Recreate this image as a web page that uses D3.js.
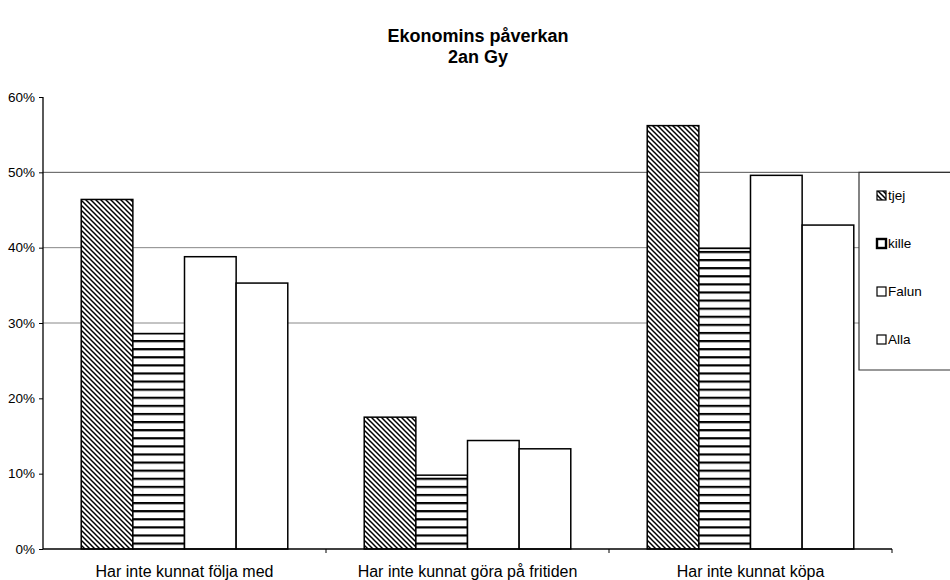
<!DOCTYPE html>
<html>
<head>
<meta charset="utf-8">
<script src="https://cdn.jsdelivr.net/npm/d3@7"></script>
<style>
  body { margin: 0; background: #fff; }
  text { font-family: "Liberation Sans", Arial, sans-serif; fill: #000; }
</style>
</head>
<body>
<div id="chart"></div>
<script>
var svgWidth = 950;
var svgHeight = 580;

var margin = { top: 97, right: 58, bottom: 31, left: 43 };
var width = 892 - margin.left;
var height = 549 - margin.top;

// data
var categories = ["Har inte kunnat följa med", "Har inte kunnat göra på fritiden", "Har inte kunnat köpa"];
var seriesNames = ["tjej", "kille", "Falun", "Alla"];
var tjej = [46.4, 17.5, 56.2];
var kille = [28.6, 9.8, 39.9];
var falun = [38.8, 14.4, 49.6];
var alla = [35.3, 13.3, 43.0];
var yTicks = [0, 10, 20, 30, 40, 50, 60];
var gridValues = [30, 40, 50];

var seriesValues = [tjej, kille, falun, alla];

var svg = d3.select("#chart")
  .append("svg")
  .attr("width", svgWidth)
  .attr("height", svgHeight);

// patterns
var defs = svg.append("defs");

var diag = defs.append("pattern")
  .attr("id", "diag")
  .attr("patternUnits", "userSpaceOnUse")
  .attr("width", 5)
  .attr("height", 5);
diag.append("rect").attr("width", 5).attr("height", 5).attr("fill", "#fff");
diag.append("path")
  .attr("d", "M-1,-1 L6,6 M-1,4 L1,6 M4,-1 L6,1")
  .attr("stroke", "#000")
  .attr("stroke-width", 1.5);

var horiz = defs.append("pattern")
  .attr("id", "horiz")
  .attr("patternUnits", "userSpaceOnUse")
  .attr("width", 8)
  .attr("height", 8.1);
horiz.append("rect").attr("width", 8).attr("height", 8.1).attr("fill", "#fff");
horiz.append("rect").attr("y", 0).attr("width", 8).attr("height", 2.2).attr("fill", "#000");

var fills = ["url(#diag)", "url(#horiz)", "#fff", "#fff"];

// title
svg.append("text")
  .attr("x", 478).attr("y", 42)
  .attr("text-anchor", "middle")
  .attr("font-weight", "bold")
  .attr("font-size", "18px")
  .text("Ekonomins påverkan");
svg.append("text")
  .attr("x", 478).attr("y", 63)
  .attr("text-anchor", "middle")
  .attr("font-weight", "bold")
  .attr("font-size", "18px")
  .text("2an Gy");

var chartGroup = svg.append("g")
  .attr("transform", `translate(${margin.left}, ${margin.top})`);

// scales
var x0 = d3.scaleBand()
  .domain(categories)
  .range([0, width])
  .paddingInner(0)
  .paddingOuter(0);

var x1 = d3.scaleBand()
  .domain(seriesNames)
  .range([0, x0.bandwidth()])
  .paddingOuter(0.74)
  .paddingInner(0);

var y = d3.scaleLinear()
  .domain([0, 60])
  .range([height, 0]);

// gridlines
chartGroup.selectAll(".grid")
  .data(gridValues)
  .enter()
  .append("line")
  .attr("x1", 0)
  .attr("x2", d => d === 50 ? svgWidth - margin.left : 816)
  .attr("y1", d => y(d))
  .attr("y2", d => y(d))
  .attr("stroke", d => d === 50 ? "#555" : "#888")
  .attr("stroke-width", 1);

// bars
var groups = chartGroup.selectAll(".group")
  .data(categories)
  .enter()
  .append("g")
  .attr("transform", d => `translate(${x0(d)}, 0)`);

groups.selectAll("rect")
  .data((d, i) => seriesNames.map((s, j) => ({ s: s, v: seriesValues[j][i], j: j })))
  .enter()
  .append("rect")
  .attr("x", d => x1(d.s))
  .attr("y", d => y(d.v))
  .attr("width", x1.bandwidth())
  .attr("height", d => height - y(d.v))
  .attr("fill", d => fills[d.j])
  .attr("stroke", "#000")
  .attr("stroke-width", 1.5);

// axes
var leftAxis = d3.axisLeft(y)
  .tickValues(yTicks)
  .tickSize(4)
  .tickFormat(d => d + "%");

var yAxisG = chartGroup.append("g").call(leftAxis);
yAxisG.select(".domain").attr("stroke", "#000").attr("stroke-width", 1.3).attr("d", `M0,0V${height}`);
yAxisG.selectAll("text").attr("font-size", "13.5px").attr("x", -8)
  .style("font-family", "'Liberation Sans', Arial, sans-serif");

var bottomAxis = d3.axisBottom(x0).tickSize(0).tickPadding(17);
var xAxisG = chartGroup.append("g")
  .attr("transform", `translate(0, ${height})`)
  .call(bottomAxis);
xAxisG.select(".domain").attr("stroke", "#000").attr("stroke-width", 1.3).attr("d", `M0,0H${width}`);
xAxisG.selectAll("text").attr("font-size", "16px")
  .style("font-family", "'Liberation Sans', Arial, sans-serif");

// category separators
chartGroup.selectAll(".sep")
  .data([1, 2, 3])
  .enter()
  .append("line")
  .attr("x1", d => x0.step() * d)
  .attr("x2", d => x0.step() * d)
  .attr("y1", height)
  .attr("y2", height + 4)
  .attr("stroke", "#000");

// legend
var legend = svg.append("g");
legend.append("path")
  .attr("d", `M${svgWidth},${y(50) + margin.top} H859 V370 H${svgWidth}`)
  .attr("fill", "#fff")
  .attr("stroke", "#333")
  .attr("stroke-width", 1.2);

var legendY = [200, 248, 296, 344];
var legendItems = legend.selectAll(".item")
  .data(seriesNames)
  .enter()
  .append("g")
  .attr("transform", (d, i) => `translate(877, ${legendY[i]})`);

legendItems.append("rect")
  .attr("x", 0).attr("y", -9)
  .attr("width", 9).attr("height", 9)
  .attr("fill", (d, i) => i === 1 ? "#fff" : fills[i])
  .attr("stroke", "#000")
  .attr("stroke-width", (d, i) => i === 1 ? 2.4 : 1.2);

legendItems.append("text")
  .attr("x", 11).attr("y", 0)
  .attr("font-size", "13.5px")
  .text(d => d);
</script>
</body>
</html>
